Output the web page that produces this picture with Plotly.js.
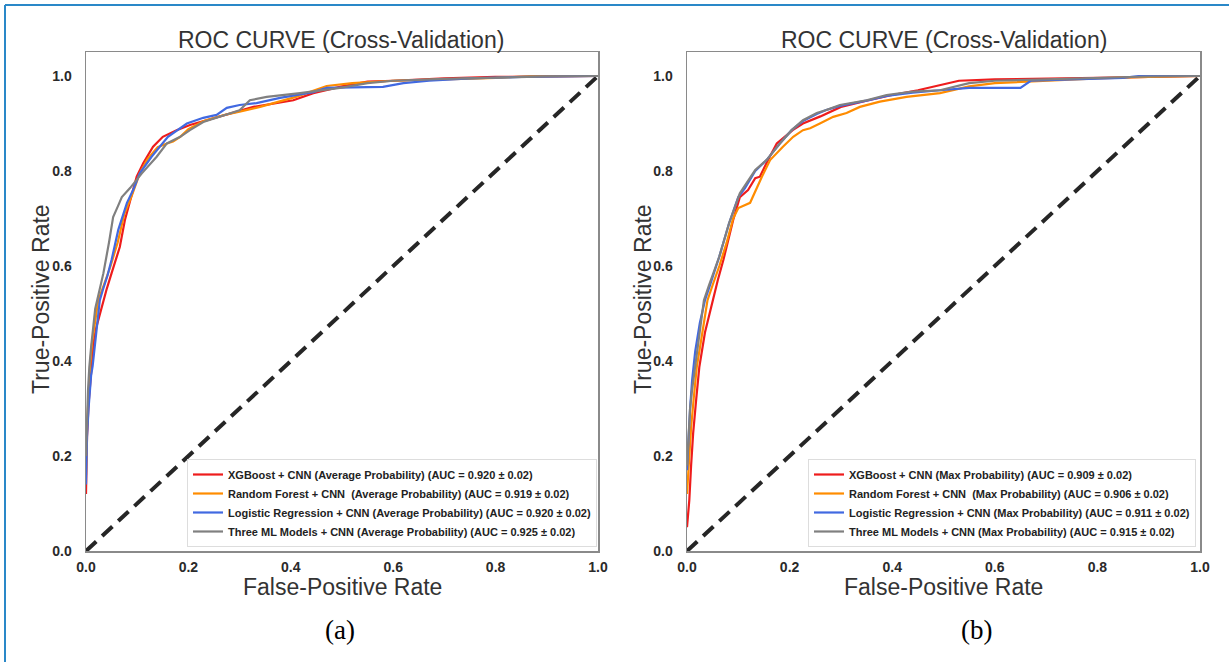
<!DOCTYPE html>
<html>
<head>
<meta charset="utf-8">
<script src="https://cdn.plot.ly/plotly-3.0.1.min.js"></script>
<style>html,body{margin:0;padding:0;background:#fff;}#chart{width:1229px;height:662px;}</style>
</head>
<body>
<div id="chart"></div>
<script>
// ---------- DATA ----------
const panelTitles = ["ROC CURVE (Cross-Validation)", "ROC CURVE (Cross-Validation)"];
const panelLabels = ["(a)", "(b)"];
const xAxisTitle = "False-Positive Rate";
const yAxisTitle = "True-Positive Rate";
const tickVals = [0, 0.2, 0.4, 0.6, 0.8, 1.0];
const tickText = ["0.0", "0.2", "0.4", "0.6", "0.8", "1.0"];

const namesA = [
  "XGBoost + CNN (Average Probability) (AUC = 0.920 ± 0.02)",
  "Random Forest + CNN  (Average Probability) (AUC = 0.919 ± 0.02)",
  "Logistic Regression + CNN (Average Probability) (AUC = 0.920 ± 0.02)",
  "Three ML Models + CNN (Average Probability) (AUC = 0.925 ± 0.02)"
];
const namesB = [
  "XGBoost + CNN (Max Probability) (AUC = 0.909 ± 0.02)",
  "Random Forest + CNN  (Max Probability) (AUC = 0.906 ± 0.02)",
  "Logistic Regression + CNN (Max Probability) (AUC = 0.911 ± 0.02)",
  "Three ML Models + CNN (Max Probability) (AUC = 0.915 ± 0.02)"
];

// Panel (a) – average probability
const a_xgb_fpr = [0, 0.002, 0.005, 0.01, 0.015, 0.02, 0.029, 0.04, 0.05, 0.066, 0.076, 0.086, 0.099, 0.112, 0.131, 0.15, 0.177, 0.203, 0.236, 0.281, 0.327, 0.405, 0.444, 0.5, 0.55, 0.6, 0.7, 0.8, 0.9, 1.0];
const a_xgb_tpr = [0.12, 0.24, 0.31, 0.38, 0.44, 0.47, 0.507, 0.55, 0.585, 0.64, 0.697, 0.739, 0.788, 0.817, 0.851, 0.872, 0.886, 0.897, 0.907, 0.922, 0.935, 0.949, 0.964, 0.978, 0.988, 0.99, 0.995, 0.998, 0.999, 1.0];
const a_rf_fpr = [0, 0.002, 0.005, 0.008, 0.012, 0.018, 0.024, 0.035, 0.048, 0.062, 0.075, 0.09, 0.105, 0.12, 0.14, 0.158, 0.17, 0.184, 0.2, 0.23, 0.27, 0.3, 0.34, 0.41, 0.47, 0.52, 0.6, 0.7, 0.8, 0.87, 0.92, 1.0];
const a_rf_tpr = [0.16, 0.26, 0.33, 0.39, 0.44, 0.49, 0.528, 0.56, 0.6, 0.65, 0.71, 0.75, 0.795, 0.825, 0.85, 0.858, 0.862, 0.872, 0.888, 0.905, 0.918, 0.925, 0.935, 0.956, 0.979, 0.985, 0.99, 0.993, 0.996, 1.0, 1.0, 1.0];
const a_lr_fpr = [0, 0.002, 0.005, 0.01, 0.013, 0.02, 0.027, 0.033, 0.042, 0.05, 0.063, 0.08, 0.092, 0.105, 0.128, 0.16, 0.197, 0.229, 0.255, 0.275, 0.3, 0.333, 0.379, 0.444, 0.47, 0.52, 0.58, 0.62, 0.67, 0.75, 0.85, 1.0];
const a_lr_tpr = [0.14, 0.24, 0.3, 0.37, 0.39, 0.46, 0.528, 0.55, 0.58, 0.613, 0.676, 0.733, 0.76, 0.795, 0.83, 0.872, 0.9, 0.912, 0.918, 0.933, 0.939, 0.943, 0.954, 0.966, 0.975, 0.976, 0.977, 0.985, 0.99, 0.995, 0.998, 1.0];
const a_all_fpr = [0, 0.002, 0.004, 0.0065, 0.01, 0.018, 0.024, 0.034, 0.045, 0.053, 0.062, 0.07, 0.086, 0.109, 0.138, 0.158, 0.184, 0.203, 0.229, 0.262, 0.3, 0.32, 0.353, 0.418, 0.496, 0.55, 0.6, 0.7, 0.8, 0.9, 1.0];
const a_all_tpr = [0.2, 0.28, 0.34, 0.387, 0.43, 0.51, 0.54, 0.585, 0.65, 0.703, 0.725, 0.745, 0.764, 0.795, 0.83, 0.858, 0.872, 0.886, 0.903, 0.914, 0.928, 0.949, 0.956, 0.964, 0.975, 0.985, 0.99, 0.994, 0.997, 0.999, 1.0];

// Panel (b) – max probability
const b_xgb_fpr = [0, 0.0045, 0.008, 0.012, 0.018, 0.024, 0.035, 0.05, 0.06, 0.071, 0.09, 0.103, 0.119, 0.133, 0.142, 0.158, 0.175, 0.206, 0.226, 0.26, 0.3, 0.35, 0.4, 0.45, 0.53, 0.6, 0.7, 0.8, 0.9, 1.0];
const b_xgb_tpr = [0.05, 0.107, 0.18, 0.248, 0.32, 0.387, 0.46, 0.528, 0.57, 0.613, 0.697, 0.745, 0.76, 0.785, 0.788, 0.823, 0.858, 0.886, 0.9, 0.915, 0.935, 0.948, 0.96, 0.97, 0.99, 0.993, 0.994, 0.996, 0.998, 1.0];
const b_rf_fpr = [0, 0.004, 0.008, 0.013, 0.019, 0.027, 0.04, 0.05, 0.063, 0.077, 0.09, 0.1, 0.123, 0.146, 0.162, 0.187, 0.207, 0.226, 0.24, 0.259, 0.285, 0.311, 0.337, 0.376, 0.428, 0.493, 0.55, 0.6, 0.7, 0.8, 0.9, 1.0];
const b_rf_tpr = [0.12, 0.2, 0.26, 0.32, 0.387, 0.44, 0.528, 0.56, 0.6, 0.648, 0.7, 0.722, 0.733, 0.788, 0.823, 0.851, 0.872, 0.886, 0.89, 0.9, 0.914, 0.922, 0.935, 0.946, 0.956, 0.964, 0.978, 0.985, 0.99, 0.995, 0.998, 1.0];
const b_lr_fpr = [0, 0.003, 0.006, 0.01, 0.016, 0.025, 0.035, 0.045, 0.063, 0.082, 0.1, 0.113, 0.133, 0.155, 0.181, 0.204, 0.226, 0.253, 0.27, 0.298, 0.35, 0.389, 0.44, 0.493, 0.55, 0.65, 0.67, 0.75, 0.85, 0.88, 0.9, 1.0];
const b_lr_tpr = [0.17, 0.24, 0.3, 0.36, 0.42, 0.48, 0.528, 0.56, 0.62, 0.69, 0.745, 0.764, 0.8, 0.823, 0.858, 0.886, 0.905, 0.92, 0.928, 0.937, 0.948, 0.958, 0.965, 0.97, 0.975, 0.975, 0.99, 0.993, 0.996, 1.0, 1.0, 1.0];
const b_all_fpr = [0, 0.003, 0.006, 0.01, 0.0156, 0.025, 0.033, 0.043, 0.063, 0.082, 0.103, 0.133, 0.155, 0.181, 0.204, 0.226, 0.253, 0.27, 0.298, 0.35, 0.389, 0.44, 0.493, 0.55, 0.6, 0.7, 0.8, 0.9, 1.0];
const b_all_tpr = [0.18, 0.25, 0.3, 0.34, 0.387, 0.46, 0.528, 0.56, 0.62, 0.69, 0.753, 0.802, 0.823, 0.858, 0.886, 0.907, 0.922, 0.928, 0.939, 0.949, 0.96, 0.967, 0.97, 0.985, 0.99, 0.993, 0.996, 0.999, 1.0];

const chanceX = [0, 1];
const chanceY = [0, 1];

// ---------- STYLE ----------
const W = 1229, H = 662;
const colors = ["#ee1c1c", "#ff8c00", "#4169e1", "#808080"];
const sans = "Liberation Sans, Arial, sans-serif";
const px = v => v / W;
const py = v => 1 - v / H;

const seriesA = [[a_xgb_fpr, a_xgb_tpr], [a_rf_fpr, a_rf_tpr], [a_lr_fpr, a_lr_tpr], [a_all_fpr, a_all_tpr]];
const seriesB = [[b_xgb_fpr, b_xgb_tpr], [b_rf_fpr, b_rf_tpr], [b_lr_fpr, b_lr_tpr], [b_all_fpr, b_all_tpr]];

const traces = [];
function addPanel(series, names, xa, ya, leg) {
  traces.push({x: chanceX, y: chanceY, xaxis: xa, yaxis: ya, mode: "lines", showlegend: false,
    line: {color: "#262626", width: 4, dash: "14px,8px"}, hoverinfo: "skip"});
  series.forEach((s, i) => {
    traces.push({x: s[0], y: s[1], xaxis: xa, yaxis: ya, mode: "lines", name: names[i], legend: leg,
      line: {color: colors[i], width: 2.2}});
  });
}
addPanel(seriesA, namesA, "x", "y", "legend");
addPanel(seriesB, namesB, "x2", "y2", "legend2");

const axisCommon = {
  range: [0, 1], tickvals: tickVals, ticktext: tickText, showgrid: false, zeroline: false,
  showline: true, mirror: true, linecolor: "#8a8a8a", linewidth: 1.5, ticks: "",
  tickfont: {family: sans, size: 14, color: "#2a2a2a", weight: "bold"}, fixedrange: true
};
const yCommon = Object.assign({}, axisCommon, {range: [0, 1.05], domain: [py(551), py(52.25)], ticklabelstandoff: 10});
const xCommon = Object.assign({}, axisCommon, {ticklabelstandoff: 3});

const legendCommon = {
  bgcolor: "#ffffff", bordercolor: "#dddddd", borderwidth: 1,
  font: {family: sans, size: 11, color: "#222", weight: "bold"},
  xanchor: "right", yanchor: "bottom", y: py(547), itemwidth: 30, tracegroupgap: 0
};

const ann = [];
function addText(text, x, y, size, color, family, angle) {
  ann.push({text: text, x: px(x), y: py(y), xref: "paper", yref: "paper", showarrow: false,
    xanchor: "center", yanchor: "middle", textangle: angle || 0,
    font: {family: family || sans, size: size, color: color}});
}
addText(panelTitles[0], 341, 40, 23, "#333");
addText(panelTitles[1], 943.5, 40, 23, "#333");
addText(xAxisTitle, 342, 587, 23, "#333");
addText(xAxisTitle, 944, 587, 23, "#333");
addText(yAxisTitle, 41, 299, 23, "#333", sans, -90);
addText(yAxisTitle, 643, 299, 23, "#333", sans, -90);
addText(panelLabels[0], 340, 630, 27, "#000", "Liberation Serif, Times New Roman, serif");
addText(panelLabels[1], 976, 630, 27, "#000", "Liberation Serif, Times New Roman, serif");

const layout = {
  width: W, height: H, margin: {l: 0, r: 0, t: 0, b: 0, pad: 0},
  paper_bgcolor: "#fff", plot_bgcolor: "#fff", showlegend: true,
  xaxis: Object.assign({}, xCommon, {domain: [px(86), px(598)], anchor: "y"}),
  yaxis: Object.assign({}, yCommon, {anchor: "x"}),
  xaxis2: Object.assign({}, xCommon, {domain: [px(687), px(1200)], anchor: "y2"}),
  yaxis2: Object.assign({}, yCommon, {anchor: "x2"}),
  legend: Object.assign({}, legendCommon, {x: px(597)}),
  legend2: Object.assign({}, legendCommon, {x: px(1196)}),
  annotations: ann,
  shapes: [
    {type: "line", xref: "paper", yref: "paper", x0: px(5), x1: 1, y0: py(5), y1: py(5), line: {color: "#2a88c8", width: 2}},
    {type: "line", xref: "paper", yref: "paper", x0: px(5), x1: px(5), y0: py(5), y1: 0, line: {color: "#2a88c8", width: 2}}
  ]
};

Plotly.newPlot("chart", traces, layout, {displayModeBar: false, staticPlot: true});
</script>
</body>
</html>
